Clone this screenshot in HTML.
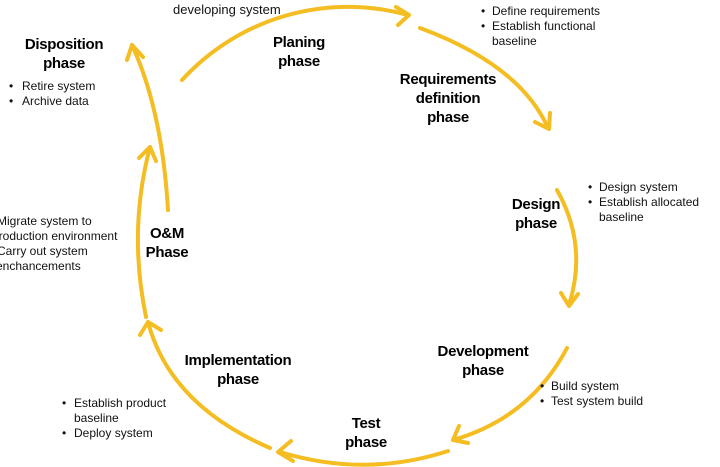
<!DOCTYPE html>
<html><head><meta charset="utf-8"><style>
html,body{margin:0;padding:0;background:#fff;}
svg{display:block;}
.b{font-family:"Liberation Sans",sans-serif;font-weight:bold;font-size:15px;fill:#000;text-anchor:middle;letter-spacing:-0.3px;}
.t{font-family:"Liberation Sans",sans-serif;font-size:12px;fill:#111;}
</style></head><body>
<svg width="720" height="467" viewBox="0 0 720 467">
<g fill="none" stroke="#f4bd22" stroke-width="4" stroke-linecap="round" stroke-linejoin="round">
<path d="M182,80 A225,225 0 0 1 408,15"/>
<polyline points="396,7 409,15 398,25"/>
<path d="M420,28 Q520,65 548,128"/>
<polyline points="535,122 549,129 550,113"/>
<path d="M557,190 Q588,245 569,305"/>
<polyline points="561,293 569,306 578,294"/>
<path d="M567,348 Q530,418 453,440"/>
<polyline points="459,426 453,440 468,443"/>
<path d="M448,451 Q365,478 280,452"/>
<polyline points="291,441 278,452 293,461"/>
<path d="M270,448 Q170,405 148,322"/>
<polyline points="140,335 148,322 161,330"/>
<path d="M146,317 Q128,230 150,147"/>
<polyline points="139,158 150,147 156,161"/>
<path d="M168,210 Q162,110 132,45"/>
<polyline points="127,60 132,45 143,57"/>
</g>
<text class="t" x="173" y="14" style="font-size:13px">developing system</text>
<text class="b" x="299" y="47">Planing</text><text class="b" x="299" y="66">phase</text>
<text class="b" x="448" y="84">Requirements</text><text class="b" x="448" y="103">definition</text><text class="b" x="448" y="122">phase</text>
<text class="b" x="536" y="209">Design</text><text class="b" x="536" y="228">phase</text>
<text class="b" x="483" y="356">Development</text><text class="b" x="483" y="375">phase</text>
<text class="b" x="366" y="428">Test</text><text class="b" x="366" y="447">phase</text>
<text class="b" x="238" y="365">Implementation</text><text class="b" x="238" y="384">phase</text>
<text class="b" x="167" y="238">O&amp;M</text><text class="b" x="167" y="257">Phase</text>
<text class="b" x="64" y="49">Disposition</text><text class="b" x="64" y="68">phase</text>
<g class="t">
<text x="481" y="15">•</text><text x="492" y="15">Define requirements</text>
<text x="481" y="30">•</text><text x="492" y="30">Establish functional</text>
<text x="492" y="45">baseline</text>
<text x="9" y="90">•</text><text x="22" y="90">Retire system</text>
<text x="9" y="105">•</text><text x="22" y="105">Archive data</text>
<text x="588" y="191">•</text><text x="599" y="191">Design system</text>
<text x="588" y="206">•</text><text x="599" y="206">Establish allocated</text>
<text x="599" y="221">baseline</text>
<text x="540" y="390">•</text><text x="551" y="390">Build system</text>
<text x="540" y="405">•</text><text x="551" y="405">Test system build</text>
<text x="62" y="407">•</text><text x="74" y="407">Establish product</text>
<text x="74" y="422">baseline</text>
<text x="62" y="437">•</text><text x="74" y="437">Deploy system</text>
<text x="-3" y="225">Migrate system to</text>
<text x="-8" y="240">production environment</text>
<text x="-3" y="255">Carry out system</text>
<text x="-4" y="270">enchancements</text>
</g>
</svg>
</body></html>
